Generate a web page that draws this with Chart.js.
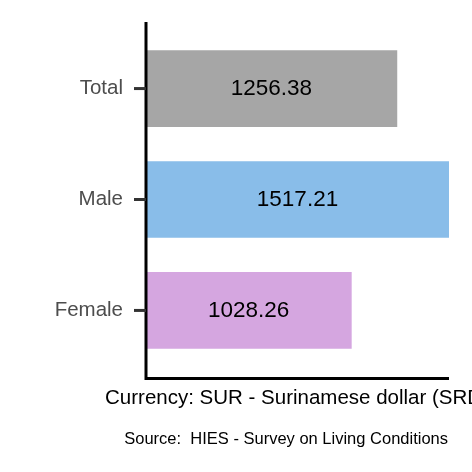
<!DOCTYPE html>
<html><head><meta charset="utf-8">
<script src="https://cdn.jsdelivr.net/npm/chart.js@4"></script>
<style>html,body{margin:0;padding:0;background:#fff}#w{width:472px;height:472px}</style>
</head><body><div id="w"><canvas id="c"></canvas></div>
<script>
const categories = ["Total", "Male", "Female"];
const positions = [3, 2, 1];
const values = [1256.38, 1517.21, 1028.26];
const colors = ["#a6a6a6", "#89bde9", "#d5a6e0"];
const xTitle = "Currency: SUR - Surinamese dollar (SRD)";
const caption = "Source:  HIES - Survey on Living Conditions";
const F = '"Liberation Sans", Arial, sans-serif';

const deco = {
  id: 'deco',
  afterDraw(chart) {
    const {ctx, chartArea: a, scales: {x, y}} = chart;
    ctx.save();
    ctx.strokeStyle = '#000'; ctx.lineWidth = 3;
    ctx.beginPath(); ctx.moveTo(a.left, a.top); ctx.lineTo(a.left, a.bottom + 1.5);
    ctx.lineTo(a.right, a.bottom + 1.5); ctx.stroke();
    ctx.textBaseline = 'middle';
    categories.forEach((c, i) => {
      const py = y.getPixelForValue(positions[i]);
      ctx.strokeStyle = '#333'; ctx.beginPath(); ctx.moveTo(a.left - 12, py); ctx.lineTo(a.left, py); ctx.stroke();
      ctx.font = '20.5px ' + F;
      ctx.fillStyle = '#4d4d4d'; ctx.textAlign = 'right';
      ctx.fillText(c, a.left - 23, py);
      ctx.fillStyle = '#000'; ctx.textAlign = 'center'; ctx.font = '22.5px ' + F;
      ctx.fillText(values[i].toFixed(2), (a.left + x.getPixelForValue(values[i])) / 2, py);
    });
    ctx.fillStyle = '#000'; ctx.textAlign = 'center'; ctx.font = '20.5px ' + F;
    ctx.fillText(xTitle, 297, 398);
    ctx.font = '16.5px ' + F;
    ctx.textAlign = 'right';
    ctx.fillText(caption, 448, 439);
    ctx.restore();
  }
};

new Chart(document.getElementById('c'), {
  type: 'bar',
  data: { datasets: [{
    data: values.map((v, i) => ({x: v, y: positions[i]})),
    backgroundColor: colors, barThickness: 76, borderWidth: 0
  }]},
  options: {
    indexAxis: 'y', responsive: true, maintainAspectRatio: false, animation: false,
    layout: { padding: { left: 146, top: 22, right: 23, bottom: 95 } },
    plugins: { legend: { display: false }, tooltip: { enabled: false } },
    scales: {
      x: { type: 'linear', min: 0, max: 1517.21, display: false, offset: false },
      y: { type: 'linear', min: 0.4, max: 3.6, display: false, offset: false, grace: 0 }
    }
  },
  plugins: [deco]
});
</script></body></html>
